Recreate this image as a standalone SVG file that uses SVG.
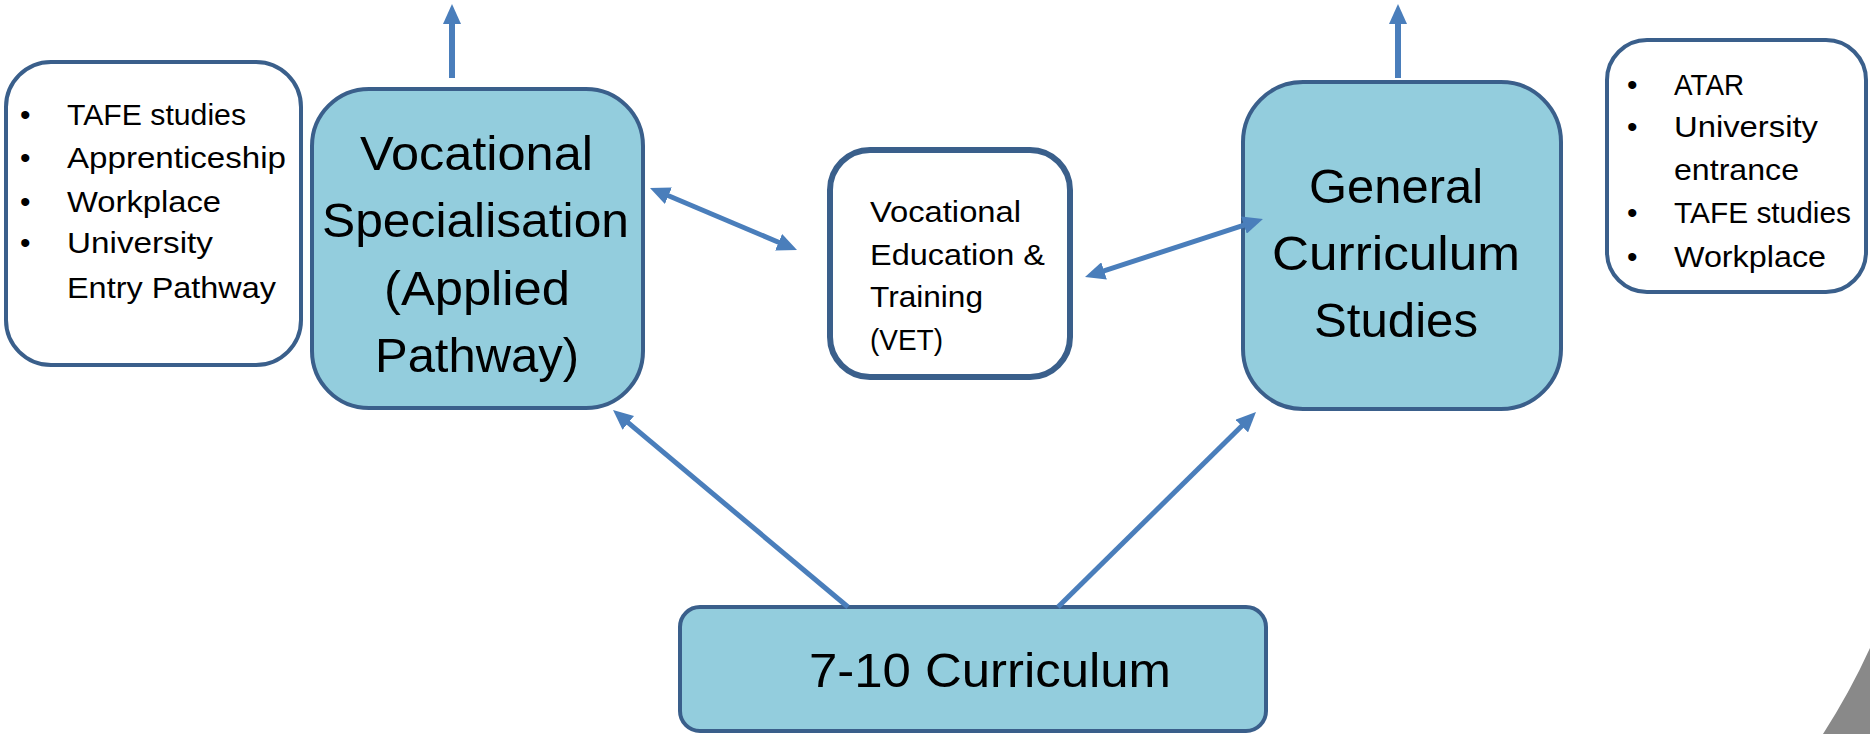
<svg xmlns="http://www.w3.org/2000/svg" width="1870" height="734" viewBox="0 0 1870 734">
  <style>
    .txt { font-family: "Liberation Sans", Arial, sans-serif; fill: #000; }
    .big { font-size: 48px; }
    .mid { font-size: 30px; }
    .box-blue { fill: #93CDDD; stroke: #3A5F8B; stroke-width: 4; }
    .box-white { fill: #FFFFFF; stroke: #3A5F8B; stroke-width: 4; }
    .conn { stroke: #4A7EBB; stroke-width: 5; fill: none; }
    .conn-up { stroke: #4A7EBB; stroke-width: 6; fill: none; }
  </style>
  <defs>
    <marker id="arrow" markerUnits="userSpaceOnUse" markerWidth="20" markerHeight="18" viewBox="0 0 20 18" refX="5" refY="9" orient="auto-start-reverse">
      <path d="M0,0 L20,9 L0,18 Z" fill="#4A7EBB"/>
    </marker>
  </defs>
  <rect width="1870" height="734" fill="#FFFFFF"/>
  <path d="M1823,734 Q1850,692 1870,648 L1870,734 Z" fill="#898989"/>

  <g id="left-outcomes">
    <rect class="box-white" x="6" y="62" width="295" height="303" rx="45" ry="45"/>
    <text class="txt mid" x="20" y="125">•</text>
    <text class="txt mid" x="20" y="168">•</text>
    <text class="txt mid" x="20" y="212">•</text>
    <text class="txt mid" x="20" y="253">•</text>
    <text class="txt mid" x="67" y="125" textLength="179" lengthAdjust="spacingAndGlyphs">TAFE studies</text>
    <text class="txt mid" x="67" y="168" textLength="219" lengthAdjust="spacingAndGlyphs">Apprenticeship</text>
    <text class="txt mid" x="67" y="212" textLength="154" lengthAdjust="spacingAndGlyphs">Workplace</text>
    <text class="txt mid" x="67" y="253" textLength="146" lengthAdjust="spacingAndGlyphs">University</text>
    <text class="txt mid" x="67" y="298" textLength="209" lengthAdjust="spacingAndGlyphs">Entry Pathway</text>
  </g>

  <g id="vocational-specialisation">
    <rect class="box-blue" x="312" y="89" width="331" height="319" rx="57" ry="57"/>
    <text class="txt big" x="360" y="170" textLength="233" lengthAdjust="spacingAndGlyphs">Vocational</text>
    <text class="txt big" x="322" y="237" textLength="307" lengthAdjust="spacingAndGlyphs">Specialisation</text>
    <text class="txt big" x="384" y="305" textLength="186" lengthAdjust="spacingAndGlyphs">(Applied</text>
    <text class="txt big" x="375" y="372" textLength="204" lengthAdjust="spacingAndGlyphs">Pathway)</text>
  </g>

  <g id="vet">
    <rect x="830" y="150" width="240" height="227" rx="40" ry="40" fill="#FFFFFF" stroke="#3A5F8B" stroke-width="6"/>
    <text class="txt mid" x="870" y="222" textLength="151" lengthAdjust="spacingAndGlyphs">Vocational</text>
    <text class="txt mid" x="870" y="265" textLength="175" lengthAdjust="spacingAndGlyphs">Education &amp;</text>
    <text class="txt mid" x="870" y="307" textLength="113" lengthAdjust="spacingAndGlyphs">Training</text>
    <text class="txt mid" x="870" y="350" textLength="73" lengthAdjust="spacingAndGlyphs">(VET)</text>
  </g>

  <g id="general-curriculum">
    <rect class="box-blue" x="1243" y="82" width="318" height="327" rx="60" ry="60"/>
    <text class="txt big" x="1309" y="203" textLength="174" lengthAdjust="spacingAndGlyphs">General</text>
    <text class="txt big" x="1272" y="270" textLength="248" lengthAdjust="spacingAndGlyphs">Curriculum</text>
    <text class="txt big" x="1314" y="337" textLength="164" lengthAdjust="spacingAndGlyphs">Studies</text>
  </g>

  <g id="right-outcomes">
    <rect class="box-white" x="1607" y="40" width="259" height="252" rx="40" ry="40"/>
    <text class="txt mid" x="1627" y="95">•</text>
    <text class="txt mid" x="1627" y="137">•</text>
    <text class="txt mid" x="1627" y="223">•</text>
    <text class="txt mid" x="1627" y="267">•</text>
    <text class="txt mid" x="1674" y="95" textLength="70" lengthAdjust="spacingAndGlyphs">ATAR</text>
    <text class="txt mid" x="1674" y="137" textLength="144" lengthAdjust="spacingAndGlyphs">University</text>
    <text class="txt mid" x="1674" y="180" textLength="125" lengthAdjust="spacingAndGlyphs">entrance</text>
    <text class="txt mid" x="1674" y="223" textLength="177" lengthAdjust="spacingAndGlyphs">TAFE studies</text>
    <text class="txt mid" x="1674" y="267" textLength="152" lengthAdjust="spacingAndGlyphs">Workplace</text>
  </g>

  <g id="curriculum-7-10">
    <rect class="box-blue" x="680" y="607" width="586" height="124" rx="20" ry="20"/>
    <text class="txt big" x="809" y="687" textLength="362" lengthAdjust="spacingAndGlyphs">7-10 Curriculum</text>
  </g>

  <g id="connectors">
    <line class="conn-up" x1="452" y1="78" x2="452" y2="19" marker-end="url(#arrow)"/>
    <line class="conn-up" x1="1398" y1="78" x2="1398" y2="19" marker-end="url(#arrow)"/>
    <line class="conn" x1="663.8" y1="193.8" x2="783.2" y2="244.2" marker-start="url(#arrow)" marker-end="url(#arrow)"/>
    <line class="conn" x1="1248.7" y1="223.6" x2="1099.3" y2="272.4" marker-start="url(#arrow)" marker-end="url(#arrow)"/>
    <line class="conn" x1="848" y1="607" x2="624.5" y2="419.6" marker-end="url(#arrow)"/>
    <line class="conn" x1="1058" y1="607" x2="1245.3" y2="422.5" marker-end="url(#arrow)"/>
  </g>
</svg>
